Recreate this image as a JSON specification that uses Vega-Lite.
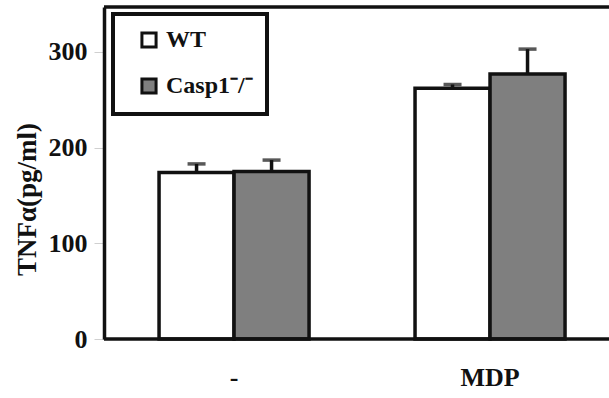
{
  "$schema": "https://vega.github.io/schema/vega-lite/v6.json",
  "autosize": "none",
  "width": 505,
  "height": 332,
  "padding": {"top": 7, "left": 104, "right": 0, "bottom": 59},
  "background": "white",
  "config": {
    "view": {"stroke": null},
    "font": "Liberation Serif",
    "legend": {"strokeWidth": 4}
  },
  "data": {
    "values": [
      {"treatment": "-", "genotype": "WT", "value": 174, "upper": 183},
      {"treatment": "-", "genotype": "Casp1-/-", "value": 175, "upper": 187},
      {"treatment": "MDP", "genotype": "WT", "value": 262, "upper": 266},
      {"treatment": "MDP", "genotype": "Casp1-/-", "value": 277, "upper": 303}
    ]
  },
  "layer": [
    {
      "mark": {"type": "bar", "stroke": "#111", "strokeWidth": 3.5},
      "encoding": {
        "x": {
          "field": "treatment",
          "type": "nominal",
          "sort": ["-", "MDP"],
          "scale": {"paddingInner": 0.414, "paddingOuter": 0.1934, "align": 0.556},
          "axis": {
            "title": null,
            "labelAngle": 0,
            "labelFont": "Liberation Serif",
            "labelFontWeight": "bold",
            "labelFontSize": 26,
            "labelColor": "#111",
            "labelPadding": 25,
            "ticks": false,
            "domain": false
          }
        },
        "xOffset": {
          "field": "genotype",
          "type": "nominal",
          "sort": ["WT", "Casp1-/-"],
          "scale": {"paddingInner": 0, "paddingOuter": 0}
        },
        "y": {
          "field": "value",
          "type": "quantitative",
          "scale": {"domain": [0, 347], "nice": false},
          "axis": {
            "values": [0, 100, 200, 300],
            "grid": false,
            "domainColor": "#111",
            "domainWidth": 3.5,
            "tickColor": "#d0d0d0",
            "tickSize": 10,
            "tickWidth": 1,
            "labelFont": "Liberation Serif",
            "labelFontWeight": "bold",
            "labelFontSize": 26,
            "labelColor": "#111",
            "labelPadding": 7,
            "title": "TNFα(pg/ml)",
            "titleFont": "Liberation Serif",
            "titleFontWeight": "bold",
            "titleFontSize": 27,
            "titleColor": "#111",
            "titlePadding": 7,
            "titleY": 192
          }
        },
        "fill": {
          "field": "genotype",
          "type": "nominal",
          "sort": ["WT", "Casp1-/-"],
          "scale": {"domain": ["WT", "Casp1-/-"], "range": ["#ffffff", "#7f7f7f"]},
          "legend": {
            "title": null,
            "orient": "none",
            "legendX": 9,
            "legendY": 7,
            "direction": "vertical",
            "strokeColor": "#111",
            "fillColor": "white",
            "padding": 14,
            "rowPadding": 18,
            "symbolType": "square",
            "symbolSize": 200,
            "symbolStrokeColor": "#111",
            "symbolStrokeWidth": 3,
            "symbolOffset": 10,
            "labelFont": "Liberation Serif",
            "labelFontWeight": "bold",
            "labelFontSize": 24,
            "labelColor": "#111",
            "labelOffset": 5,
            "labelExpr": "datum.label == 'WT' ? 'WT' : 'Casp1⁻/⁻'"
          }
        }
      }
    },
    {
      "mark": {"type": "rule", "color": "#111", "strokeWidth": 3.5},
      "encoding": {
        "x": {"field": "treatment", "type": "nominal", "sort": ["-", "MDP"]},
        "xOffset": {"field": "genotype", "type": "nominal", "sort": ["WT", "Casp1-/-"]},
        "y": {"field": "value", "type": "quantitative"},
        "y2": {"field": "upper"}
      }
    },
    {
      "mark": {"type": "tick", "color": "#111", "thickness": 3.5, "size": 18},
      "encoding": {
        "x": {"field": "treatment", "type": "nominal", "sort": ["-", "MDP"]},
        "xOffset": {"field": "genotype", "type": "nominal", "sort": ["WT", "Casp1-/-"]},
        "y": {"field": "upper", "type": "quantitative"}
      }
    },
    {
      "data": {"values": [{"edge": 0}]},
      "mark": {"type": "rule", "color": "#111", "strokeWidth": 3.5},
      "encoding": {
        "y": {"datum": 347, "type": "quantitative"}
      }
    },
    {
      "data": {"values": [{"edge": 0}]},
      "mark": {"type": "rule", "color": "#111", "strokeWidth": 3.5},
      "encoding": {
        "y": {"datum": 0, "type": "quantitative"}
      }
    }
  ]
}
